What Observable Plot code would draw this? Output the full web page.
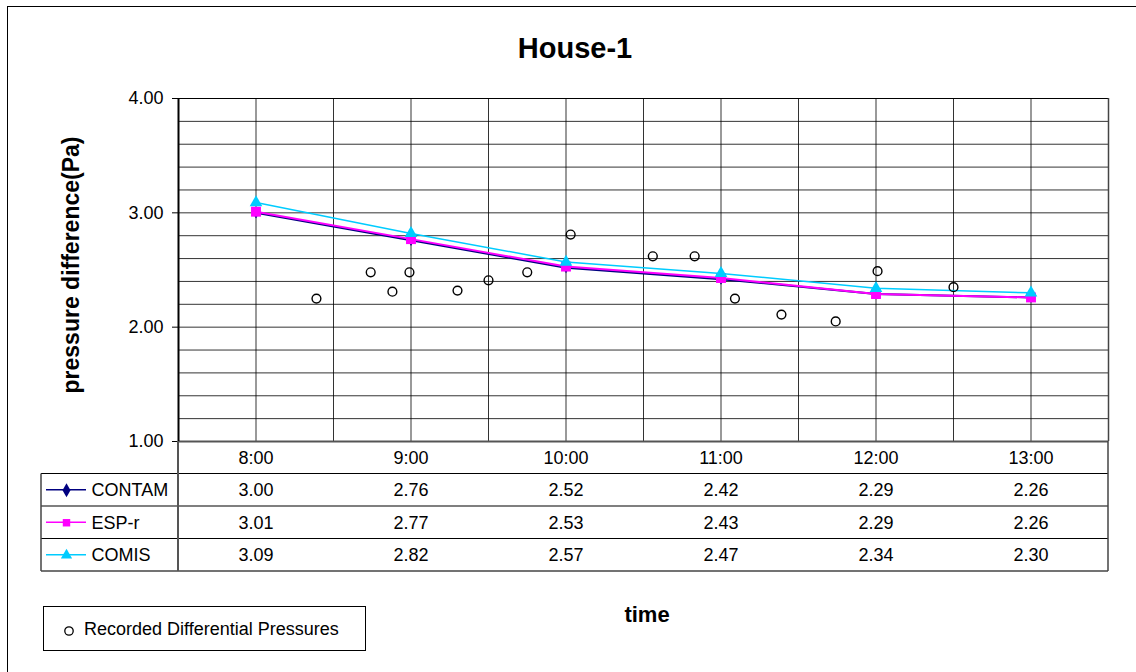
<!DOCTYPE html>
<html>
<head>
<meta charset="utf-8">
<script src="https://cdn.jsdelivr.net/npm/d3@7"></script>
<script src="https://cdn.jsdelivr.net/npm/@observablehq/plot@0.6"></script>
<style>
  html, body { margin: 0; padding: 0; background: #fff; overflow: hidden; }
  #wrap { position: relative; width: 1136px; height: 672px; overflow: hidden; background: #fff;
          font-family: "Liberation Sans", Arial, sans-serif; color: #000; }
  .abs { position: absolute; white-space: nowrap; }
  #border { left: 7px; top: 6px; width: 1300px; height: 900px; border: 1px solid #000; box-sizing: border-box; }
  #title { left: 575px; top: 34px; font-size: 29px; font-weight: bold; line-height: 29px; transform: translateX(-50%); }
  #ylabel { left: 71px; top: 265px; font-size: 23px; font-weight: bold; line-height: 23px; transform: translate(-50%, -50%) rotate(-90deg); }
  #xlabel { left: 647px; top: 604px; font-size: 22px; font-weight: bold; line-height: 22px; transform: translateX(-50%); }
  #legend { left: 43px; top: 606px; width: 323px; height: 45px; border: 1px solid #000; box-sizing: border-box; }
  #legend svg { position: absolute; left: 0; top: 0; }
  #legend span { position: absolute; left: 40px; top: 13px; font-size: 18px; line-height: 18px; }
  #chart1 { left: 0; top: 0; }
  #chart2 { left: 0; top: 441px; }
</style>
</head>
<body>
<div id="wrap">
  <div id="border" class="abs"></div>
  <div id="title" class="abs">House-1</div>
  <div id="ylabel" class="abs">pressure difference(Pa)</div>
  <div id="xlabel" class="abs">time</div>
  <div id="legend" class="abs"></div>
  <div id="chart1" class="abs"></div>
  <div id="chart2" class="abs"></div>
</div>
<script>
// ---------- data ----------
const hours = [8, 9, 10, 11, 12, 13];
const hourLabels = ["8:00", "9:00", "10:00", "11:00", "12:00", "13:00"];
const contam = [3.00, 2.76, 2.52, 2.42, 2.29, 2.26];
const espr   = [3.01, 2.77, 2.53, 2.43, 2.29, 2.26];
const comis  = [3.09, 2.82, 2.57, 2.47, 2.34, 2.30];
const seriesNames = ["CONTAM", "ESP-r", "COMIS"];
const seriesColors = ["#000080", "#FF00FF", "#00CCFF"];
const seriesSymbols = ["diamond", "square", "triangle"];
// recorded differential pressures (time in decimal hours)
const recTime  = [8.39, 8.74, 8.88, 8.99, 9.30, 9.50, 9.75, 10.03, 10.56, 10.83, 11.09, 11.39, 11.74, 12.01, 12.50];
const recValue = [2.25, 2.48, 2.31, 2.48, 2.32, 2.41, 2.48, 2.81, 2.62, 2.62, 2.25, 2.11, 2.05, 2.49, 2.35];
const recLabel = "Recorded Differential Pressures";
const yTicks = [1, 2, 3, 4];

// ---------- tables built from arrays ----------
const seriesValues = [contam, espr, comis];
const rows = seriesNames.flatMap((name, k) =>
  hours.map((h, i) => ({series: name, k, hour: h, label: hourLabels[i], value: seriesValues[k][i]})));
const rec = recTime.map((t, i) => ({t, v: recValue[i]}));
const xDomain = [hours[0] - 0.5, hours[hours.length - 1] + 0.5];
const hGrid = d3.range(0, 16).map(i => 1 + i * 0.2);
const vGrid = d3.range(0, 13).map(i => xDomain[0] + i * 0.5);
const FONT = "'Liberation Sans', Arial, sans-serif";

// ---------- main chart ----------
const markerR = [3.4, 5.6, 4.7];
const lineMarks = seriesNames.flatMap((name, k) => {
  const d = rows.filter(r => r.series === name);
  return [
    Plot.line(d, {x: "hour", y: "value", stroke: seriesColors[k], strokeWidth: k === 2 ? 1.5 : 2}),
    Plot.dot(d, {x: "hour", y: "value", symbol: seriesSymbols[k], fill: seriesColors[k],
                 r: markerR[k], stroke: "none"})
  ];
});

const chart1 = Plot.plot({
  width: 1136, height: 442,
  marginLeft: 178, marginRight: 28, marginTop: 98, marginBottom: 1,
  style: {background: "transparent", fontFamily: FONT, fontSize: "18px", color: "#000", overflow: "visible"},
  x: {domain: xDomain, axis: null},
  y: {domain: [1, 4], axis: null},
  marks: [
    Plot.ruleY(hGrid, {stroke: "#000", strokeOpacity: 0.8, strokeWidth: 1}),
    Plot.ruleX(vGrid, {stroke: "#000", strokeOpacity: 0.8, strokeWidth: 1}),
    Plot.ruleY([4], {stroke: "#000", strokeWidth: 1}),
    Plot.ruleX([xDomain[1]], {stroke: "#444", strokeWidth: 1.5}),
    Plot.ruleY([1], {stroke: "#555", strokeWidth: 2}),
    Plot.ruleX([xDomain[0]], {stroke: "#000", strokeWidth: 2}),
    Plot.axisY({ticks: yTicks, tickFormat: d3.format(".2f"), tickSize: 6, tickPadding: 9,
                label: null, stroke: "#000", fill: "#000", fontSize: 18}),
    ...lineMarks,
    Plot.dot(rec, {x: "t", y: "v", r: 4.4, stroke: "#000", strokeWidth: 1.4, fill: "none"})
  ]
});
document.getElementById("chart1").appendChild(chart1);

// ---------- data table ----------
const chart2 = Plot.plot({
  width: 1136, height: 131,
  marginLeft: 178, marginRight: 28, marginTop: 0, marginBottom: 1,
  style: {background: "transparent", fontFamily: FONT, fontSize: "18px", color: "#000", overflow: "visible"},
  x: {domain: xDomain, axis: null},
  y: {domain: [0, 4], range: [0, 130], axis: null},
  marks: [
    Plot.text(hours, {x: d => d, y: 0.5, text: (d, i) => hourLabels[i], fontSize: 18, fill: "#000"}),
    Plot.text(rows, {x: "hour", y: d => d.k + 1.5, text: d => d3.format(".2f")(d.value), fontSize: 18, fill: "#000"}),
    Plot.text(seriesNames, {y: (d, i) => i + 1.5, frameAnchor: "left", dx: -87, textAnchor: "start",
                            text: d => d, fontSize: 18, fill: "#000"}),
    Plot.dot(seriesNames, {y: (d, i) => i + 1.5, frameAnchor: "left", dx: -112,
                           symbol: (d, i) => seriesSymbols[i], fill: (d, i) => seriesColors[i],
                           r: 4.2, stroke: "none"})
  ]
});
document.getElementById("chart2").appendChild(chart2);

// table borders & legend swatch lines (decoration, positioned with the plot's scales)
{
  const sx = chart2.scale("x"), sy = chart2.scale("y");
  const xl = sx.apply(xDomain[0]), xr = sx.apply(xDomain[1]);
  const svg = d3.select(chart2);
  const g = svg.insert("g", ":first-child");
  const leftX = 41;
  seriesNames.forEach((n, i) => {
    g.append("line").attr("x1", 46).attr("x2", 86)
      .attr("y1", sy.apply(i + 1.5)).attr("y2", sy.apply(i + 1.5))
      .attr("stroke", seriesColors[i]).attr("stroke-width", 1.5);
  });
  [1, 2, 3, 4].forEach(r => {
    g.append("line").attr("x1", leftX).attr("x2", xr)
      .attr("y1", sy.apply(r)).attr("y2", sy.apply(r))
      .attr("stroke", r === 4 ? "#444" : "#000").attr("stroke-width", r === 4 ? 1.5 : 1.2);
  });
  g.append("line").attr("x1", leftX).attr("x2", leftX).attr("y1", sy.apply(1)).attr("y2", sy.apply(4))
    .attr("stroke", "#444").attr("stroke-width", 1.5);
  g.append("line").attr("x1", xl).attr("x2", xl).attr("y1", sy.apply(0)).attr("y2", sy.apply(4))
    .attr("stroke", "#555").attr("stroke-width", 2);
  g.append("line").attr("x1", xr).attr("x2", xr).attr("y1", sy.apply(0)).attr("y2", sy.apply(4))
    .attr("stroke", "#444").attr("stroke-width", 1.5);
}

// bottom legend for recorded pressures
{
  const leg = document.getElementById("legend");
  const s = d3.create("svg").attr("width", 60).attr("height", 45);
  s.append("circle").attr("cx", 25).attr("cy", 24).attr("r", 4.2)
    .attr("fill", "none").attr("stroke", "#000").attr("stroke-width", 1.3);
  leg.appendChild(s.node());
  const sp = document.createElement("span");
  sp.textContent = recLabel;
  leg.appendChild(sp);
}
</script>
</body>
</html>
